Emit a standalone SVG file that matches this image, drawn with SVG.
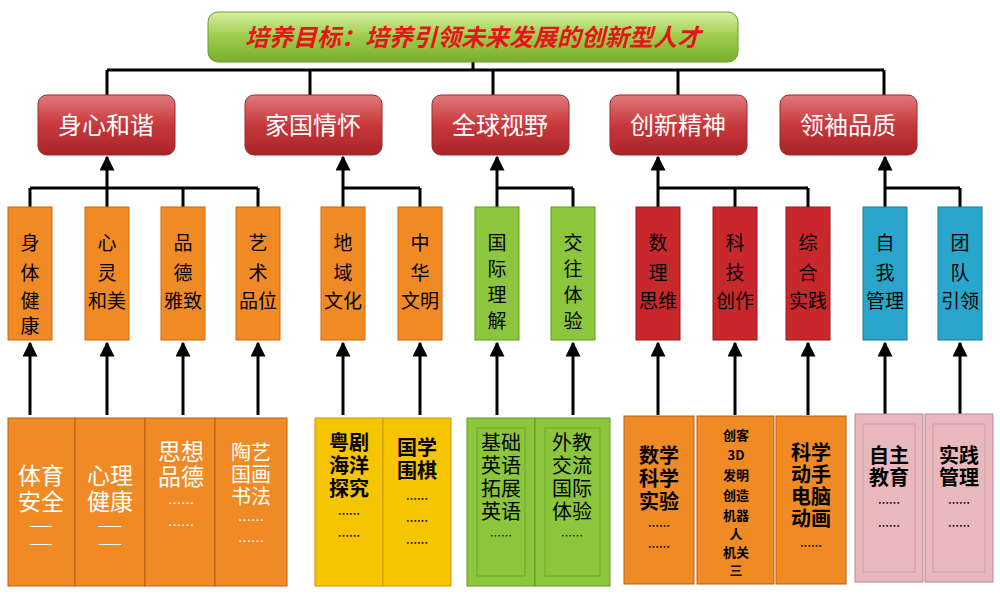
<svg xmlns="http://www.w3.org/2000/svg" width="1000" height="600" viewBox="0 0 1000 600">
<defs>
<linearGradient id="gTop" x1="0" y1="0" x2="0" y2="1"><stop offset="0" stop-color="#d6f0a0"/><stop offset="0.5" stop-color="#9ccc4a"/><stop offset="1" stop-color="#7aae2e"/></linearGradient>
<linearGradient id="gCat" x1="0" y1="0" x2="0" y2="1"><stop offset="0" stop-color="#e07a7a"/><stop offset="0.5" stop-color="#c8383c"/><stop offset="1" stop-color="#a82428"/></linearGradient>
<marker id="ar" viewBox="0 0 10 10" refX="9" refY="5" markerWidth="5" markerHeight="5" orient="auto"><path d="M0,0L10,5L0,10z" fill="#000"/></marker>
</defs>
<style>
.ln{stroke:#000;stroke-width:3;fill:none}
.cat{fill:url(#gCat);stroke:#9a2a2a;stroke-width:1}
.ct{font-family:"Noto Sans CJK SC",sans-serif;font-size:24px;fill:#fff;text-anchor:middle}
.sub{stroke-width:1}
.st{font-family:"Noto Sans CJK SC",sans-serif;font-size:19px;fill:#000;text-anchor:middle}
.bt{font-family:"Noto Sans CJK SC",sans-serif;text-anchor:middle}
.o{fill:#f08a24;stroke:#c86a10}
.g{fill:#8cc63c;stroke:#5f9a20}
.r{fill:#c8282c;stroke:#901a1a}
.b{fill:#2aa6cc;stroke:#1a7a9a}
.y{fill:#f6c400;stroke:#c89a00}
.p{fill:#e8b8bc;stroke:#b88890}
.bo{fill:#f08a24;stroke:#b86010}
</style>
<g id="connectors">
<path class="ln" d="M107,70H884M107,70V95M310,70V95M493,70V95M678,70V95M884,70V95M473,62V70"/>
<path class="ln" d="M30,188H258M30,188V207M107,188V207M183,188V207M258,188V207"/>
<path class="ln" d="M343,188H420M343,188V207M420,188V207"/>
<path class="ln" d="M497,188H573M497,188V207M573,188V207"/>
<path class="ln" d="M658,188H808M658,188V207M735,188V207M808,188V207"/>
<path class="ln" d="M885,188H960M885,188V207M960,188V207"/>
<g marker-end="url(#ar)">
<path class="ln" d="M107,188V157"/><path class="ln" d="M343,188V157"/><path class="ln" d="M497,188V157"/><path class="ln" d="M658,188V157"/><path class="ln" d="M885,188V157"/>
<path class="ln" d="M30,415V343"/><path class="ln" d="M107,415V343"/><path class="ln" d="M183,415V343"/><path class="ln" d="M258,415V343"/>
<path class="ln" d="M343,415V343"/><path class="ln" d="M420,415V343"/><path class="ln" d="M497,415V343"/><path class="ln" d="M573,415V343"/>
<path class="ln" d="M658,415V343"/><path class="ln" d="M735,415V343"/><path class="ln" d="M808,415V343"/><path class="ln" d="M885,415V343"/><path class="ln" d="M960,415V343"/>
</g>
</g>
<g id="goal"><rect x="208" y="12" width="530" height="50" rx="10" fill="url(#gTop)" stroke="#6a9a30"/><text x="473" y="46" font-family="Noto Sans CJK SC,sans-serif" font-size="24" font-weight="bold" font-style="italic" fill="#e8141c" text-anchor="middle">培养目标：培养引领未来发展的创新型人才</text></g>
<g id="c1"><rect class="cat" x="38" y="95" width="137" height="60" rx="9"/><text class="ct" x="106" y="134">身心和谐</text></g>
<g id="c2"><rect class="cat" x="245" y="95" width="137" height="60" rx="9"/><text class="ct" x="313" y="134">家国情怀</text></g>
<g id="c3"><rect class="cat" x="432" y="95" width="137" height="60" rx="9"/><text class="ct" x="500" y="134">全球视野</text></g>
<g id="c4"><rect class="cat" x="610" y="95" width="137" height="60" rx="9"/><text class="ct" x="678" y="134">创新精神</text></g>
<g id="c5"><rect class="cat" x="780" y="95" width="137" height="60" rx="9"/><text class="ct" x="848" y="134">领袖品质</text></g>
<g id="s1"><rect class="sub o" x="8" y="207" width="44" height="133"/><text class="st" x="30" y="250">身</text><text class="st" x="30" y="280">体</text><text class="st" x="30" y="308">健</text><text class="st" x="30" y="333">康</text></g>
<g id="s2"><rect class="sub o" x="85" y="207" width="44" height="133"/><text class="st" x="107" y="250">心</text><text class="st" x="107" y="280">灵</text><text class="st" x="107" y="308">和美</text></g>
<g id="s3"><rect class="sub o" x="161" y="207" width="44" height="133"/><text class="st" x="183" y="250">品</text><text class="st" x="183" y="280">德</text><text class="st" x="183" y="308">雅致</text></g>
<g id="s4"><rect class="sub o" x="236" y="207" width="44" height="133"/><text class="st" x="258" y="250">艺</text><text class="st" x="258" y="280">术</text><text class="st" x="258" y="308">品位</text></g>
<g id="s5"><rect class="sub o" x="321" y="207" width="44" height="133"/><text class="st" x="343" y="250">地</text><text class="st" x="343" y="280">域</text><text class="st" x="343" y="308">文化</text></g>
<g id="s6"><rect class="sub o" x="398" y="207" width="44" height="133"/><text class="st" x="420" y="250">中</text><text class="st" x="420" y="280">华</text><text class="st" x="420" y="308">文明</text></g>
<g id="s7"><rect class="sub g" x="475" y="207" width="44" height="133"/><text class="st" x="497" y="250">国</text><text class="st" x="497" y="276">际</text><text class="st" x="497" y="302">理</text><text class="st" x="497" y="328">解</text></g>
<g id="s8"><rect class="sub g" x="551" y="207" width="44" height="133"/><text class="st" x="573" y="250">交</text><text class="st" x="573" y="276">往</text><text class="st" x="573" y="302">体</text><text class="st" x="573" y="328">验</text></g>
<g id="s9"><rect class="sub r" x="636" y="207" width="44" height="133"/><text class="st" x="658" y="250">数</text><text class="st" x="658" y="280">理</text><text class="st" x="658" y="308">思维</text></g>
<g id="s10"><rect class="sub r" x="713" y="207" width="44" height="133"/><text class="st" x="735" y="250">科</text><text class="st" x="735" y="280">技</text><text class="st" x="735" y="308">创作</text></g>
<g id="s11"><rect class="sub r" x="786" y="207" width="44" height="133"/><text class="st" x="808" y="250">综</text><text class="st" x="808" y="280">合</text><text class="st" x="808" y="308">实践</text></g>
<g id="s12"><rect class="sub b" x="863" y="207" width="44" height="133"/><text class="st" x="885" y="250">自</text><text class="st" x="885" y="280">我</text><text class="st" x="885" y="308">管理</text></g>
<g id="s13"><rect class="sub b" x="938" y="207" width="44" height="133"/><text class="st" x="960" y="250">团</text><text class="st" x="960" y="280">队</text><text class="st" x="960" y="308">引领</text></g>
<g id="b1" style="fill:#fff;font-size:23px"><rect class="bo" x="8" y="418" width="67" height="168"/><text class="bt" x="41" y="484">体育</text><text class="bt" x="41" y="510">安全</text><text class="bt" x="41" y="530" style="font-size:14px">——</text><text class="bt" x="41" y="548" style="font-size:14px">——</text></g>
<g id="b2" style="fill:#fff;font-size:23px"><rect class="bo" x="75" y="418" width="70" height="168"/><text class="bt" x="110" y="484">心理</text><text class="bt" x="110" y="510">健康</text><text class="bt" x="110" y="530" style="font-size:14px">——</text><text class="bt" x="110" y="548" style="font-size:14px">——</text></g>
<g id="b3" style="fill:#fff;font-size:23px"><rect class="bo" x="145" y="418" width="70" height="168"/><text class="bt" x="181" y="460">思想</text><text class="bt" x="181" y="485">品德</text><text class="bt" x="181" y="508" style="font-size:13px">……</text><text class="bt" x="181" y="530" style="font-size:13px">……</text></g>
<g id="b4" style="fill:#fff;font-size:20px"><rect class="bo" x="215" y="418" width="72" height="168"/><text class="bt" x="251" y="460">陶艺</text><text class="bt" x="251" y="482">国画</text><text class="bt" x="251" y="504">书法</text><text class="bt" x="251" y="525" style="font-size:13px">……</text><text class="bt" x="251" y="546" style="font-size:13px">……</text></g>
<g id="b5" style="font-size:20px;font-weight:bold"><rect class="y" x="315" y="418" width="68" height="168"/><text class="bt" x="349" y="450">粤剧</text><text class="bt" x="349" y="473">海洋</text><text class="bt" x="349" y="496">探究</text><text class="bt" x="349" y="518" style="font-size:11px">……</text><text class="bt" x="349" y="540" style="font-size:11px">……</text></g>
<g id="b6" style="font-size:20px;font-weight:bold"><rect class="y" x="383" y="418" width="68" height="168"/><text class="bt" x="417" y="455">国学</text><text class="bt" x="417" y="478">围棋</text><text class="bt" x="417" y="503" style="font-size:11px">……</text><text class="bt" x="417" y="525" style="font-size:11px">……</text><text class="bt" x="417" y="547" style="font-size:11px">……</text></g>
<g id="b7" style="font-size:20px"><rect class="g" x="467" y="418" width="68" height="168"/><rect x="477" y="428" width="48" height="148" fill="none" stroke="#6aa82a"/><text class="bt" x="501" y="450">基础</text><text class="bt" x="501" y="473">英语</text><text class="bt" x="501" y="496">拓展</text><text class="bt" x="501" y="519">英语</text><text class="bt" x="501" y="540" style="font-size:11px">……</text></g>
<g id="b8" style="font-size:20px"><rect class="g" x="535" y="418" width="75" height="168"/><rect x="545" y="428" width="55" height="148" fill="none" stroke="#6aa82a"/><text class="bt" x="572" y="450">外教</text><text class="bt" x="572" y="473">交流</text><text class="bt" x="572" y="496">国际</text><text class="bt" x="572" y="519">体验</text><text class="bt" x="572" y="540" style="font-size:11px">……</text></g>
<g id="b9" style="font-size:20px;font-weight:bold"><rect class="bo" x="624" y="416" width="70" height="168"/><text class="bt" x="659" y="463">数学</text><text class="bt" x="659" y="486">科学</text><text class="bt" x="659" y="509">实验</text><text class="bt" x="659" y="530" style="font-size:11px">……</text><text class="bt" x="659" y="551" style="font-size:11px">……</text></g>
<g id="b10" style="font-size:13px;font-weight:bold"><rect class="bo" x="697" y="416" width="77" height="168"/><text class="bt" x="736" y="440">创客</text><text class="bt" x="736" y="460">3D</text><text class="bt" x="736" y="480">发明</text><text class="bt" x="736" y="500">创造</text><text class="bt" x="736" y="520">机器</text><text class="bt" x="736" y="539">人</text><text class="bt" x="736" y="557">机关</text><text class="bt" x="736" y="575">三</text></g>
<g id="b11" style="font-size:20px;font-weight:bold"><rect class="bo" x="776" y="416" width="70" height="168"/><text class="bt" x="811" y="460">科学</text><text class="bt" x="811" y="482">动手</text><text class="bt" x="811" y="504">电脑</text><text class="bt" x="811" y="526">动画</text><text class="bt" x="811" y="550" style="font-size:11px">……</text></g>
<g id="b12" style="font-size:20px;font-weight:bold"><rect class="p" x="855" y="414" width="68" height="168"/><rect x="863" y="424" width="52" height="148" fill="none" stroke="#c8a0a4"/><text class="bt" x="889" y="463">自主</text><text class="bt" x="889" y="485">教育</text><text class="bt" x="889" y="507" style="font-size:11px">……</text><text class="bt" x="889" y="530" style="font-size:11px">……</text></g>
<g id="b13" style="font-size:20px;font-weight:bold"><rect class="p" x="925" y="414" width="68" height="168"/><rect x="933" y="424" width="52" height="148" fill="none" stroke="#c8a0a4"/><text class="bt" x="959" y="463">实践</text><text class="bt" x="959" y="485">管理</text><text class="bt" x="959" y="507" style="font-size:11px">……</text><text class="bt" x="959" y="530" style="font-size:11px">……</text></g>
</svg>
